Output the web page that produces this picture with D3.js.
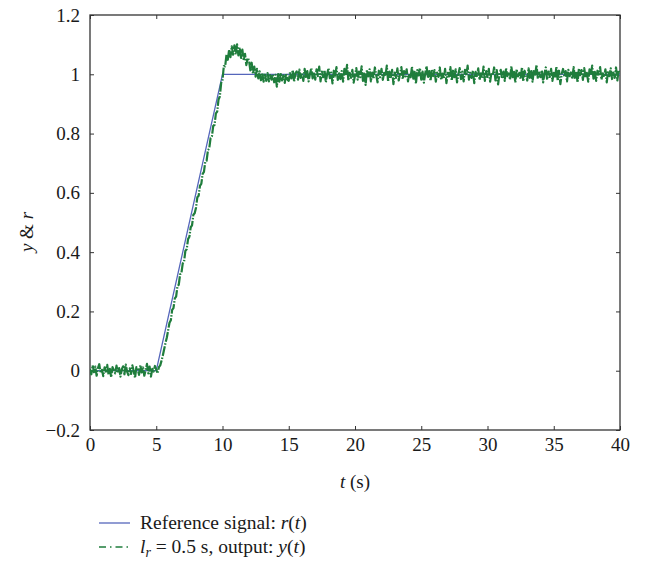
<!DOCTYPE html>
<html>
<head>
<meta charset="utf-8">
<script src="https://cdn.jsdelivr.net/npm/d3@7"></script>
<style>
  html, body { margin: 0; padding: 0; background: #fff; }
  svg { display: block; }
</style>
</head>
<body>
<script>
// ---- data ----
const xTicks = [0, 5, 10, 15, 20, 25, 30, 35, 40];
const yTicks = [-0.2, 0, 0.2, 0.4, 0.6, 0.8, 1, 1.2];
const yTickLabels = ["\u22120.2", "0", "0.2", "0.4", "0.6", "0.8", "1", "1.2"];

// reference signal r(t): breakpoints
const refT = [0, 5, 10, 40];
const refY = [0, 0, 1, 1];

const outStep = 0.1;
const outY = [
  0.006,-0.012,0.018,-0.005,0.014,-0.017,0.009,0.022,-0.008,0.003,
  -0.018,0.011,-0.003,0.020,-0.014,0.006,-0.022,0.012,0.002,-0.009,
  0.017,-0.006,0.009,-0.020,0.005,0.015,-0.012,0.021,-0.003,-0.015,
  0.008,-0.011,0.018,-0.002,-0.024,0.012,0.005,-0.014,0.019,-0.006,
  0.011,-0.017,0.003,0.023,-0.009,0.014,-0.020,0.006,-0.003,0.016,
  0.004,-0.009,0.012,0.018,0.034,0.052,0.073,0.094,0.112,0.137,
  0.162,0.170,0.205,0.211,0.244,0.250,0.285,0.290,0.325,0.330,
  0.362,0.369,0.405,0.410,0.444,0.452,0.484,0.490,0.526,0.531,
  0.550,0.585,0.590,0.624,0.630,0.664,0.671,0.705,0.708,0.744,
  0.750,0.785,0.790,0.826,0.829,0.868,0.874,0.915,0.925,0.971,
  0.981,1.028,1.027,1.066,1.049,1.083,1.058,1.094,1.066,1.098,
  1.067,1.101,1.064,1.090,1.055,1.083,1.046,1.069,1.031,1.055,
  1.047,1.013,1.039,1.002,1.026,0.992,1.018,0.986,1.010,0.980,
  1.005,0.975,0.999,0.978,1.004,0.976,0.997,0.982,1.000,0.973,
  0.998,0.958,1.001,0.975,1.004,0.979,0.996,0.971,1.003,0.982,
  0.978,1.008,0.986,1.014,0.975,1.003,1.010,0.982,1.016,0.988,
  1.005,0.978,1.018,0.991,1.011,0.976,1.001,1.021,0.986,1.008,
  0.982,1.017,0.994,1.026,0.976,1.009,0.990,1.014,0.973,1.002,
  1.020,0.987,1.006,0.969,1.012,0.993,1.024,0.981,1.003,0.984,
  1.011,0.975,1.018,0.997,1.032,0.979,1.005,0.988,1.015,0.972,
  0.996,1.021,0.982,1.009,0.990,1.027,0.978,1.002,0.964,1.014,
  0.993,1.017,0.976,1.006,0.985,1.023,0.997,0.973,1.012,0.990,
  1.018,0.981,1.005,0.994,1.029,0.975,1.009,0.987,1.015,0.967,
  1.006,0.988,1.020,0.979,1.002,1.024,0.984,1.011,0.993,1.017,
  0.976,1.003,0.990,1.026,0.985,1.008,0.969,1.014,0.996,1.021,
  0.982,1.009,0.972,1.003,1.027,0.988,1.011,0.978,1.017,0.994,
  1.014,0.975,1.006,0.991,1.023,0.981,1.002,0.985,1.018,0.970,
  1.005,0.993,1.024,0.979,1.012,0.990,1.017,0.973,0.999,1.021,
  0.984,1.009,0.976,1.015,0.996,1.029,0.982,1.005,0.988,1.012,
  0.970,1.008,0.994,1.020,0.981,1.003,0.987,1.026,0.978,1.011,
  0.991,1.018,0.975,1.006,0.997,1.023,0.979,1.014,0.966,1.002,
  1.015,0.985,1.009,0.978,1.021,0.994,1.003,0.982,1.027,0.990,
  1.008,0.972,1.017,0.993,1.005,0.984,1.024,0.976,1.012,0.996,
  0.979,1.020,0.988,1.011,0.975,1.015,0.999,1.032,0.985,1.006,
  0.990,1.014,0.973,1.003,1.023,0.982,1.009,0.991,1.018,0.978,
  1.005,0.987,1.026,0.979,1.012,0.967,1.002,1.018,0.993,1.011,
  0.976,1.015,0.994,1.006,0.984,1.024,0.988,1.009,0.972,1.020,
  0.997,1.014,0.981,1.021,0.990,1.005,0.975,1.017,0.996,1.029,
  0.985,1.008,0.978,1.012,0.999,1.024,0.982,1.003,0.991,1.017,
  0.973,1.011,0.994,1.020,0.984,1.006,0.988,1.023,0.979,1.014,
  1.002
];

const legendLabels = ["Reference signal: ", "output: "];

// ---- layout ----
const W = 645, H = 569;
const plot = { left: 90, right: 620, top: 15, bottom: 430 };
const blue = "#5566bb";
const green = "#1f7d3c";
const FONT = "Liberation Serif";
const FS = 19;
const FSL = 19.5;

const svg = d3.select("body").append("svg").attr("width", W).attr("height", H)
  .attr("font-family", FONT);

const x = d3.scaleLinear().domain([0, 40]).range([plot.left, plot.right]);
const y = d3.scaleLinear().domain([-0.2, 1.2]).range([plot.bottom, plot.top]);

const tickLen = 4;
const axisStyle = g => {
  g.attr("font-family", FONT);
  g.select(".domain").remove();
  g.selectAll(".tick line").attr("stroke", "#333").attr("stroke-width", 1);
  g.selectAll("text").attr("font-size", FS).attr("fill", "#1a1a1a");
};

svg.append("g").attr("transform", `translate(0,${plot.bottom})`)
  .call(d3.axisBottom(x).tickValues(xTicks).tickSizeInner(-tickLen).tickSizeOuter(0).tickPadding(8).tickFormat(d3.format("d")))
  .call(axisStyle);

svg.append("g").attr("transform", `translate(0,${plot.top})`)
  .call(d3.axisTop(x).tickValues(xTicks).tickSizeInner(-tickLen).tickSizeOuter(0).tickFormat(""))
  .call(axisStyle);

svg.append("g").attr("transform", `translate(${plot.left},0)`)
  .call(d3.axisLeft(y).tickValues(yTicks).tickSizeInner(-tickLen).tickSizeOuter(0).tickPadding(10)
    .tickFormat((d, i) => yTickLabels[i]))
  .call(axisStyle);

svg.append("g").attr("transform", `translate(${plot.right},0)`)
  .call(d3.axisRight(y).tickValues(yTicks).tickSizeInner(-tickLen).tickSizeOuter(0).tickFormat(""))
  .call(axisStyle);

// frame
svg.append("rect")
  .attr("x", plot.left).attr("y", plot.top)
  .attr("width", plot.right - plot.left).attr("height", plot.bottom - plot.top)
  .attr("fill", "none").attr("stroke", "#333").attr("stroke-width", 1.3);

svg.append("clipPath").attr("id", "clip").append("rect")
  .attr("x", plot.left).attr("y", plot.top)
  .attr("width", plot.right - plot.left).attr("height", plot.bottom - plot.top);

const line = d3.line().x(d => x(d[0])).y(d => y(d[1]));

const refData = refT.map((t, i) => [t, refY[i]]);
const outData = outY.map((v, i) => [i * outStep, v]);

const plotG = svg.append("g").attr("clip-path", "url(#clip)");

plotG.append("path").datum(refData)
  .attr("d", line).attr("fill", "none").attr("stroke", blue).attr("stroke-width", 1.3);

plotG.append("path").datum(outData)
  .attr("d", line).attr("fill", "none").attr("stroke", green).attr("stroke-width", 2.2)
  .attr("stroke-linejoin", "round")
  .attr("stroke-dasharray", "10,1.5,1.5,1.5");

// axis labels
const xl = svg.append("text").attr("x", 355).attr("y", 488).attr("text-anchor", "middle")
  .attr("font-size", FS).attr("fill", "#1a1a1a");
xl.append("tspan").attr("font-style", "italic").text("t");
xl.append("tspan").text(" (s)");

const yl = svg.append("text").attr("transform", "translate(33,232) rotate(-90)").attr("text-anchor", "middle")
  .attr("font-size", FS).attr("fill", "#1a1a1a");
yl.append("tspan").attr("font-style", "italic").text("y");
yl.append("tspan").text(" & ");
yl.append("tspan").attr("font-style", "italic").text("r");

// legend
const lg = svg.append("g");
lg.append("line").attr("x1", 99).attr("x2", 130).attr("y1", 523).attr("y2", 523)
  .attr("stroke", blue).attr("stroke-width", 1.3);
lg.append("line").attr("x1", 99).attr("x2", 130).attr("y1", 547).attr("y2", 547)
  .attr("stroke", green).attr("stroke-width", 1.3).attr("stroke-dasharray", "7,4,1.5,4");

const t1 = lg.append("text").attr("x", 140).attr("y", 529).attr("font-size", FSL).attr("fill", "#1a1a1a");
t1.append("tspan").text(legendLabels[0]);
t1.append("tspan").attr("font-style", "italic").text("r");
t1.append("tspan").text("(");
t1.append("tspan").attr("font-style", "italic").text("t");
t1.append("tspan").text(")");

const t2 = lg.append("text").attr("x", 140).attr("y", 553).attr("font-size", FSL).attr("fill", "#1a1a1a");
t2.append("tspan").attr("font-style", "italic").text("l");
t2.append("tspan").attr("font-style", "italic").attr("font-size", 14).attr("dy", 4).text("r");
t2.append("tspan").attr("dy", -4).text(" = 0.5 s, " + legendLabels[1]);
t2.append("tspan").attr("font-style", "italic").text("y");
t2.append("tspan").text("(");
t2.append("tspan").attr("font-style", "italic").text("t");
t2.append("tspan").text(")");
</script>
</body>
</html>
